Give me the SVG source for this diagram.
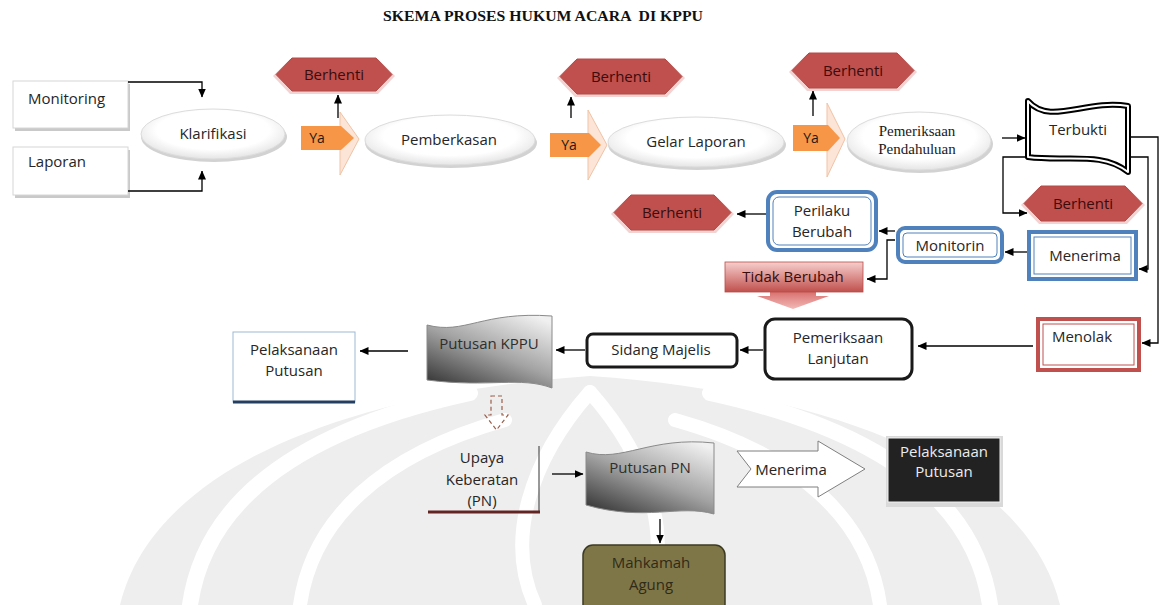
<svg xmlns="http://www.w3.org/2000/svg" width="1162" height="605" viewBox="0 0 1162 605">
<defs>
  <marker id="arr" markerUnits="userSpaceOnUse" markerWidth="9" markerHeight="8" refX="8.5" refY="4" orient="auto">
    <path d="M0,0 L9,4 L0,8 z" fill="#000"/>
  </marker>
  <radialGradient id="ellg" cx="0.5" cy="0.42" r="0.6">
    <stop offset="0.65" stop-color="#ffffff"/>
    <stop offset="1" stop-color="#e2e2e2"/>
  </radialGradient>
  <linearGradient id="tidak" x1="0" y1="0" x2="0" y2="1">
    <stop offset="0" stop-color="#f6cfcd"/>
    <stop offset="1" stop-color="#c0504d"/>
  </linearGradient>
  <linearGradient id="tidakArrow" x1="0" y1="0" x2="0" y2="1">
    <stop offset="0" stop-color="#d9726f"/>
    <stop offset="1" stop-color="#f2b9b7"/>
  </linearGradient>
  <linearGradient id="gray" x1="0.85" y1="0" x2="0.15" y2="1">
    <stop offset="0" stop-color="#f0f0f0"/>
    <stop offset="0.5" stop-color="#a3a3a3"/>
    <stop offset="1" stop-color="#3a3a3a"/>
  </linearGradient>
</defs>
<style>
  .t{font-family:"Open Sans","DejaVu Sans",sans-serif;font-size:15px;fill:#262626;text-anchor:middle}
  .s{font-family:"Liberation Serif","Times New Roman",serif;font-size:15px;fill:#1a1a1a;text-anchor:middle}
  .ln{fill:none;stroke:#000;stroke-width:1.3;marker-end:url(#arr)}
  .hex{fill:#c0504d;stroke:#b44a47;stroke-width:1}
  .hexsh{fill:#f2d3d2}
  .ht{font-family:"Open Sans","DejaVu Sans",sans-serif;font-size:15px;fill:#3a0c0c;text-anchor:middle}
  .ell{fill:url(#ellg);stroke:#dcdcdc;stroke-width:1}
  .ellsh{fill:#d2d2d2}
  .chev{fill:#fce4d6;stroke:#f0c3a6;stroke-width:1}
  .ya{fill:#f79646}
  .blueO{fill:#fff;stroke:#4f81bd;stroke-width:4}
  .blueI{fill:none;stroke:#4f81bd;stroke-width:1}
  .wm{fill:none;stroke:#fff;stroke-linecap:round}
</style>

<rect width="1162" height="605" fill="#fff"/>

<g id="watermark">
  <path d="M120,605 C150,480 320,395 590,376 C860,395 1030,480 1060,605 Z" fill="#eeeeee"/>
  <path class="wm" d="M190,605 C205,500 300,430 470,393" stroke-width="16"/>
  <path class="wm" d="M990,605 C975,500 880,430 710,393" stroke-width="16"/>
  <path class="wm" d="M300,605 C312,520 380,455 505,420" stroke-width="14"/>
  <path class="wm" d="M880,605 C868,520 800,455 675,420" stroke-width="14"/>
  <path class="wm" d="M590,392 C650,460 675,540 645,605" stroke-width="14"/>
  <path class="wm" d="M590,392 C530,460 505,540 535,605" stroke-width="14"/>
</g>

<text x="543" y="21" font-family="Liberation Serif, Times New Roman, serif" font-size="15" font-weight="bold" fill="#111" text-anchor="middle" textLength="320" lengthAdjust="spacingAndGlyphs" xml:space="preserve">SKEMA PROSES HUKUM ACARA  DI KPPU</text>

<g id="monitoring">
  <rect x="15" y="84" width="115" height="47" fill="#c9c9c9"/>
  <rect x="13" y="81" width="115" height="47" fill="#fff" stroke="#d6d6d6"/>
  <text class="t" x="28" y="104" text-anchor="start" style="text-anchor:start">Monitoring</text>
</g>
<g id="laporan">
  <rect x="15" y="150" width="115" height="48" fill="#c9c9c9"/>
  <rect x="13" y="147" width="115" height="48" fill="#fff" stroke="#d6d6d6"/>
  <text class="t" x="28" y="167" style="text-anchor:start">Laporan</text>
</g>

<g id="klarifikasi">
  <ellipse class="ellsh" cx="214" cy="137" rx="73" ry="25"/>
  <ellipse class="ell" cx="213" cy="134" rx="72" ry="25"/>
  <text class="t" x="213" y="139">Klarifikasi</text>
</g>

<g id="ya1">
  <polygon class="chev" points="340,112 359,139 340,175"/>
  <polygon class="ya" points="301,126 341,126 354,138 341,150 301,150"/>
  <text class="t" x="317" y="143" style="font-size:14px;fill:#1a1a1a">Ya</text>
</g>
<g id="berhenti1">
  <polygon class="hexsh" points="273,76 290,59 378,59 395,76 378,94 290,94"/>
  <polygon class="hex" points="276,74.5 292,58 376,58 392,74.5 376,91 292,91"/>
  <text class="ht" x="334" y="80">Berhenti</text>
</g>

<g id="pemberkasan">
  <ellipse class="ellsh" cx="451" cy="143" rx="86" ry="25"/>
  <ellipse class="ell" cx="450" cy="140" rx="85" ry="25"/>
  <text class="t" x="449" y="145">Pemberkasan</text>
</g>

<g id="ya2">
  <polygon class="chev" points="588,110 607,145 588,180"/>
  <polygon class="ya" points="550,133 589,133 601,145 589,157 550,157"/>
  <text class="t" x="569" y="150" style="font-size:14px;fill:#1a1a1a">Ya</text>
</g>
<g id="berhenti2">
  <polygon class="hexsh" points="557,78 575,60 667,60 685,78 667,97 575,97"/>
  <polygon class="hex" points="560,76.5 577,59 665,59 682,76.5 665,94 577,94"/>
  <text class="ht" x="621" y="82">Berhenti</text>
</g>

<g id="gelar-laporan">
  <ellipse class="ellsh" cx="697" cy="145" rx="89" ry="25"/>
  <ellipse class="ell" cx="696" cy="142" rx="88" ry="25"/>
  <text class="t" x="696" y="147">Gelar Laporan</text>
</g>

<g id="ya3">
  <polygon class="chev" points="827,103 845,139 827,177"/>
  <polygon class="ya" points="793,125 828,125 840,138 828,151 793,151"/>
  <text class="t" x="811" y="143" style="font-size:14px;fill:#1a1a1a">Ya</text>
</g>
<g id="berhenti3">
  <polygon class="hexsh" points="789,72 807,54 899,54 917,72 899,91 807,91"/>
  <polygon class="hex" points="792,70.5 809,53 897,53 914,70.5 897,88 809,88"/>
  <text class="ht" x="853" y="76">Berhenti</text>
</g>

<g id="pemeriksaan-pendahuluan">
  <ellipse class="ellsh" cx="920" cy="144" rx="73" ry="29"/>
  <ellipse class="ell" cx="919" cy="141" rx="72" ry="29"/>
  <text class="s" x="917" y="136">Pemeriksaan</text>
  <text class="s" x="917" y="154">Pendahuluan</text>
</g>

<g id="terbukti">
  <path d="M1028,101 C1050,126 1085,99 1128,106 L1128,172 C1102,151 1066,162 1028,157 Z" fill="#fff" stroke="#000" stroke-width="6" stroke-linejoin="round"/>
  <path d="M1028,101 C1050,126 1085,99 1128,106 L1128,172 C1102,151 1066,162 1028,157 Z" fill="none" stroke="#fff" stroke-width="2" stroke-linejoin="round"/>
  <text class="t" x="1078" y="135">Terbukti</text>
</g>

<g id="berhenti4">
  <polygon class="hexsh" points="1021,205 1039,187 1127,187 1145,205 1127,224 1039,224"/>
  <polygon class="hex" points="1024,203.5 1041,186 1125,186 1142,203.5 1125,221 1041,221"/>
  <text class="ht" x="1083" y="209">Berhenti</text>
</g>

<g id="menerima">
  <rect class="blueO" x="1029" y="232" width="107" height="47"/>
  <rect class="blueI" x="1034" y="237" width="97" height="37"/>
  <text class="t" x="1085" y="261">Menerima</text>
</g>

<g id="monitorin">
  <rect class="blueO" x="898" y="228" width="104" height="34" rx="7"/>
  <rect class="blueI" x="903" y="233" width="94" height="24" rx="4"/>
  <text class="t" x="950" y="251">Monitorin</text>
</g>

<g id="perilaku-berubah">
  <rect class="blueO" x="768" y="192" width="108" height="58" rx="9"/>
  <rect class="blueI" x="773" y="197" width="98" height="48" rx="6"/>
  <text class="t" x="822" y="216">Perilaku</text>
  <text class="t" x="822" y="237">Berubah</text>
</g>

<g id="berhenti5">
  <polygon class="hexsh" points="611,214 629,196 716,196 734,214 716,233 629,233"/>
  <polygon class="hex" points="614,212.5 631,195 714,195 731,212.5 714,230 631,230"/>
  <text class="ht" x="672" y="218">Berhenti</text>
</g>

<g id="tidak-berubah">
  <polygon points="770,292 816,292 816,296 829,296 793,309 757,296 770,296" fill="url(#tidakArrow)"/>
  <rect x="725" y="262" width="138" height="30" fill="url(#tidak)" stroke="#b94c49" stroke-width="0.8"/>
  <text class="ht" x="793" y="282">Tidak Berubah</text>
</g>

<g id="menolak">
  <rect x="1038" y="319" width="101" height="51" fill="#fff" stroke="#c0504d" stroke-width="4"/>
  <rect x="1043" y="324" width="91" height="41" fill="none" stroke="#c0504d" stroke-width="1"/>
  <text class="t" x="1082" y="342">Menolak</text>
</g>

<g id="pemeriksaan-lanjutan">
  <rect x="765" y="319" width="147" height="60" rx="10" fill="#fff" stroke="#1a1a1a" stroke-width="3"/>
  <text class="t" x="838" y="343">Pemeriksaan</text>
  <text class="t" x="838" y="364">Lanjutan</text>
</g>

<g id="sidang-majelis">
  <rect x="587" y="334" width="150" height="33" rx="6" fill="#fff" stroke="#1a1a1a" stroke-width="3"/>
  <text class="t" x="661" y="355">Sidang Majelis</text>
</g>

<g id="putusan-kppu">
  <path d="M427,325 C465,335 482,311 552,316 L552,388 C520,376 490,388 427,380 Z" fill="url(#gray)" stroke="#8a8a8a" stroke-width="1"/>
  <text class="t" x="489" y="349" style="fill:#2e2e2e">Putusan KPPU</text>
</g>

<g id="pelaksanaan-putusan-1">
  <rect x="233" y="332" width="122" height="70" fill="#fff" stroke="#9db8d2" stroke-width="1"/>
  <path d="M233,402 H355" stroke="#243f60" stroke-width="3"/>
  <text class="t" x="294" y="355">Pelaksanaan</text>
  <text class="t" x="294" y="376">Putusan</text>
</g>

<g id="dashed-arrow">
  <path d="M491,396 H502 V415 H508 L496.5,430 L485,415 H491 Z" fill="none" stroke="#9b5e4c" stroke-width="1.2" stroke-dasharray="4,3"/>
</g>

<g id="upaya-keberatan">
  <path d="M539,446 V512" stroke="#333" stroke-width="1"/>
  <path d="M428,512 H540" stroke="#632523" stroke-width="3"/>
  <text class="t" x="482" y="463">Upaya</text>
  <text class="t" x="482" y="485">Keberatan</text>
  <text class="t" x="482" y="506">(PN)</text>
</g>

<g id="putusan-pn">
  <path d="M586,452 C622,463 650,436 714,443 L714,514 C680,504 645,522 586,505 Z" fill="url(#gray)" stroke="#8a8a8a" stroke-width="1"/>
  <text class="t" x="650" y="473" style="fill:#2e2e2e">Putusan PN</text>
</g>

<g id="menerima-arrow">
  <polygon points="737,451 818,451 818,441 865,469 818,497 818,487 737,487 751,469" fill="#fff" stroke="#7f7f7f" stroke-width="1"/>
  <text class="t" x="791" y="475">Menerima</text>
</g>

<g id="pelaksanaan-putusan-2">
  <rect x="886" y="436" width="117" height="71" fill="#d9d9d9"/>
  <rect x="888" y="438" width="112" height="64" fill="#222" stroke="#f2f2f2" stroke-width="1"/>
  <text class="t" x="944" y="457" style="fill:#ececec">Pelaksanaan</text>
  <text class="t" x="944" y="477" style="fill:#ececec">Putusan</text>
</g>

<g id="mahkamah-agung">
  <rect x="583" y="545" width="142" height="72" rx="10" fill="#7f7648" stroke="#3d3a22" stroke-width="1.5"/>
  <text class="t" x="651" y="568" style="fill:#2f2b18">Mahkamah</text>
  <text class="t" x="651" y="590" style="fill:#2f2b18">Agung</text>
</g>

<g id="connectors">
  <path class="ln" d="M128,82 H202 V97"/>
  <path class="ln" d="M128,191 H202 V171"/>
  <path class="ln" d="M338,118 V95"/>
  <path class="ln" d="M571,118 V97"/>
  <path class="ln" d="M813,116 V91"/>
  <path class="ln" d="M1002,138 H1025"/>
  <path class="ln" d="M1131,137 H1158 V343 H1142"/>
  <path class="ln" d="M1131,157 H1148 V269 H1139"/>
  <path class="ln" d="M1027,157 H1003 V213 H1027"/>
  <path class="ln" d="M1027,252 H1005"/>
  <path class="ln" d="M895,231 H879"/>
  <path class="ln" d="M895,240 H887 V279 H867"/>
  <path class="ln" d="M766,214 H737"/>
  <path class="ln" d="M1033,346 H918"/>
  <path class="ln" d="M763,350 H740"/>
  <path class="ln" d="M585,350 H556"/>
  <path class="ln" d="M408,351 H360"/>
  <path class="ln" d="M552,474 H583"/>
  <path class="ln" d="M660,519 V543"/>
</g>
</svg>
